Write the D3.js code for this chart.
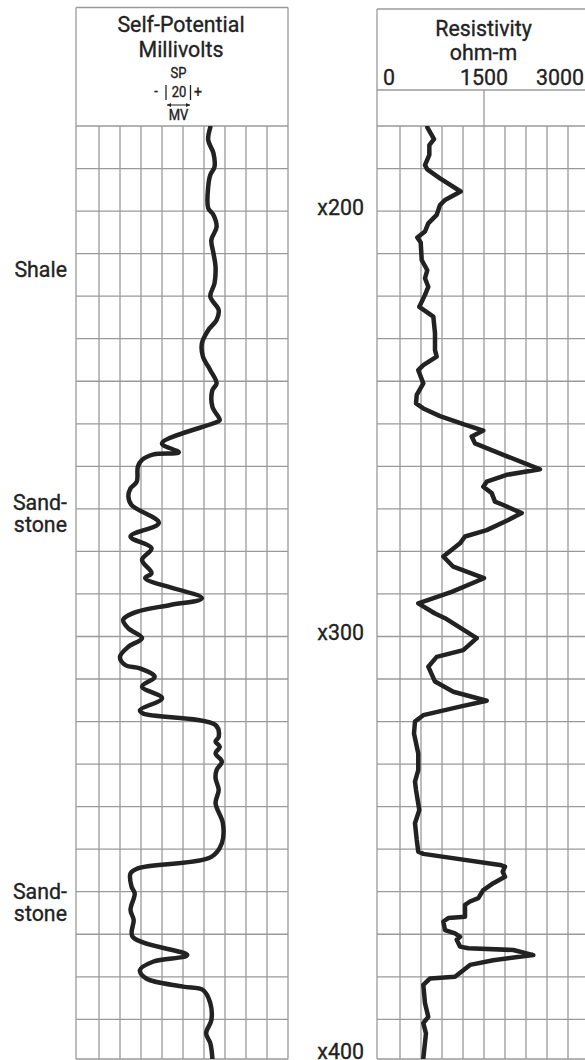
<!DOCTYPE html>
<html>
<head>
<meta charset="utf-8">
<script src="https://cdn.jsdelivr.net/npm/d3@7.9.0/dist/d3.min.js"></script>
<style>
  html, body { margin: 0; padding: 0; background: #fff; }
  svg { display: block; }
  text { font-family: Roboto, "Liberation Sans", sans-serif; fill: #222; stroke: #222; stroke-width: 0.35px; }
</style>
</head>
<body>
<svg id="chart" width="585" height="1060"></svg>
<script>
// depth (ft) / self-potential (mV, relative)
const spDepth = [180.3, 183.3, 186.4, 189.6, 191.5, 194.3, 199.3, 200.9, 203.7, 206.8, 209.9, 213.1,
  217.0, 220.1, 223.3, 225.6, 228.0, 231.1, 234.2, 237.4, 240.5, 242.1, 246.0, 249.1, 249.5,
  254.6, 256.7, 257.2, 258.5, 260.1, 263.6, 265.2, 267.1, 269.1, 273.3, 276.5, 279.3, 282.0,
  285.1, 286.3, 291.0, 292.6, 294.2, 296.1, 298.1, 300.4, 302.4, 304.8, 306.7, 307.5, 309.5,
  311.8, 314.5, 317.3, 318.1, 320.8, 323.6, 324.7, 325.9, 327.5, 329.4, 331.4, 333.3, 336.1,
  339.2, 343.9, 348.6, 351.8, 354.5, 355.7, 358.8, 360.4, 364.3, 366.6, 370.6, 374.9, 376.4,
  378.4, 380.4, 382.3, 383.1, 386.2, 390.2, 393.3, 395.6, 399.2];
const spMV = [126, 124, 129, 130, 126, 124, 124, 129, 132, 127, 129, 131,
  130, 126, 134, 132, 124, 118, 119, 126, 132, 128, 128, 135, 133,
  80, 96, 72, 61, 57, 56, 50, 48, 51, 77, 50, 70, 61,
  70, 64, 118, 88, 56, 43, 48, 61, 48, 40, 45, 59, 73,
  61, 80, 59, 62, 131, 134, 131, 135, 131, 137, 132, 131, 134,
  131, 138, 137, 127, 57, 50, 51, 54, 50, 53, 52, 104, 72,
  59, 65, 100, 119, 126, 127, 122, 126, 128];

// depth (ft) / resistivity (ohm-m)
const resDepth = [180.3, 183.1, 184.5, 186.8, 189.2, 190.2, 192.3, 195.4, 197.4, 198.6, 200.9, 202.9,
  204.8, 206.2, 207.4, 211.5, 213.9, 215.8, 217.8, 219.7, 222.5, 224.8, 228.7, 232.7, 234.2,
  236.2, 237.4, 240.5, 243.2, 245.2, 246.4, 248.2, 250.1, 251.6, 253.0, 254.6, 257.3, 260.7,
  262.0, 263.6, 264.8, 266.3, 268.3, 269.1, 271.0, 272.6, 275.0, 276.5, 278.1, 281.2, 283.6,
  286.3, 289.5, 292.2, 294.6, 295.7, 300.4, 303.2, 304.8, 307.1, 310.6, 313.0, 315.1, 316.5,
  318.5, 320.0, 322.8, 327.5, 331.4, 334.1, 336.1, 340.8, 343.9, 347.8, 350.6, 351.1, 353.7,
  354.1, 355.3, 356.5, 358.0, 359.6, 361.5, 362.3, 363.1, 365.9, 366.2, 367.0, 369.0, 369.8,
  370.6, 371.3, 372.9, 373.3, 373.7, 374.9, 376.1, 377.2, 380.0, 380.4, 381.9, 386.2, 389.4,
  390.9, 393.3, 399.2];
const resOhm = [690, 786, 719, 719, 657, 690, 871, 1167, 943, 871, 824, 704,
  657, 547, 596, 610, 690, 657, 704, 657, 576, 776, 800, 800, 824,
  633, 561, 633, 539, 529, 633, 871, 1204, 1490, 1324, 1371, 1776, 2300,
  1824, 1539, 1490, 1610, 1657, 1776, 2039, 1847, 1539, 1229, 1157, 919, 1061,
  1500, 1039, 561, 800, 943, 1396, 1204, 824, 704, 800, 1061, 1539, 1157,
  633, 514, 500, 561, 561, 514, 529, 576, 514, 539, 561, 633, 1729,
  1800, 1767, 1800, 1633, 1490, 1419, 1300, 1229, 1229, 990, 919, 943, 1086,
  1157, 1110, 1157, 1276, 1919, 2204, 1633, 1300, 1086, 729, 633, 657, 704,
  633, 671, 633];

const depthLabels = [200, 300, 400];
const resTicks = [0, 1500, 3000];
const lithology = [
  { depth: 215.5, lines: ['Shale'] },
  { depth: 270.2, lines: ['Sand-', 'stone'] },
  { depth: 361.6, lines: ['Sand-', 'stone'] }
];

const svg = d3.select('#chart');
const gridColor = '#9a9a9a';
const curveColor = '#222';

const y = d3.scaleLinear().domain([180, 400]).range([126, 126 + 22 * 42.54]);
const xSP = d3.scaleLinear().domain([0, 200]).range([78, 288]);
const xRes = d3.scaleLinear().domain([0, 3000]).range([379, 589]);
const bottom = 1059;

function label(g, x, yy, txt, size, anchor) {
  g.append('text')
    .attr('transform', `translate(${x},${yy}) scale(0.93,1)`)
    .attr('text-anchor', anchor)
    .style('font-size', size + 'px')
    .text(txt);
}

function line(x1, y1, x2, y2) {
  svg.append('line')
    .attr('x1', x1).attr('y1', y1).attr('x2', x2).attr('y2', y2)
    .attr('stroke', gridColor).attr('stroke-width', 1.3);
}

// grid for both tracks
function drawTrack(x, left, top) {
  const [, right] = x.range();
  const vals = d3.range(1, 11).map(i => x.domain()[0] + i * (x.domain()[1] - x.domain()[0]) / 10);
  vals.forEach(v => line(x(v), y(180), x(v), bottom));
  d3.range(180, 400, 10).forEach(d => line(left, y(d), right, y(d)));
  line(left, top, left, bottom);
  line(left, top, right, top);
  line(left, bottom, right, bottom);
  if (right < 585) line(right, top, right, y(180));
}
drawTrack(xSP, 76, 7.5);
drawTrack(xRes, 377, 9);

// resistivity header scale row
line(377, 90, 589, 90);
line(xRes(1500), 90, xRes(1500), y(180));

const txt = svg.append('g');
label(txt, 181, 32, 'Self-Potential', 23, 'middle');
label(txt, 181, 57, 'Millivolts', 23, 'middle');
label(txt, 178.5, 77.5, 'SP', 14, 'middle');
label(txt, 179, 97, '20', 14, 'middle');
label(txt, 156, 96, '-', 14, 'middle');
label(txt, 198, 97, '+', 15, 'middle');
label(txt, 178.5, 120, 'MV', 14, 'middle');

// bracket and scale arrow
[166, 190.5].forEach(bx => svg.append('line')
  .attr('x1', bx).attr('x2', bx).attr('y1', 85).attr('y2', 100)
  .attr('stroke', '#222').attr('stroke-width', 1.3));
svg.append('line').attr('x1', 167).attr('x2', 190).attr('y1', 105).attr('y2', 105)
  .attr('stroke', '#222').attr('stroke-width', 1);
svg.append('path').attr('d', 'M167,105 l4,-2 v4 Z M190,105 l-4,-2 v4 Z').attr('fill', '#222');

label(txt, 483.5, 36, 'Resistivity', 23, 'middle');
label(txt, 483.5, 60, 'ohm-m', 23, 'middle');
resTicks.forEach((t, i) => {
  const anchor = i === 0 ? 'start' : i === resTicks.length - 1 ? 'end' : 'middle';
  const dx = i === 0 ? 4 : i === resTicks.length - 1 ? -5 : 0;
  label(txt, xRes(t) + dx, 85, String(t), 23, anchor);
});

depthLabels.forEach(d => label(txt, 364, Math.min(y(d) + 4, bottom), 'x' + d, 23, 'end'));

lithology.forEach(l => l.lines.forEach((s, i) => label(txt, 67, y(l.depth) + i * 22, s, 23, 'end')));

// curves
svg.append('clipPath').attr('id', 'clip')
  .append('rect').attr('x', 0).attr('y', y(180)).attr('width', 585).attr('height', bottom - y(180));

const spLine = d3.line()
  .x(i => xSP(spMV[i])).y(i => y(spDepth[i]))
  .curve(d3.curveCatmullRom.alpha(0.5));
const resLine = d3.line()
  .x(i => xRes(resOhm[i])).y(i => y(resDepth[i]));

svg.append('path')
  .attr('clip-path', 'url(#clip)')
  .attr('d', spLine(d3.range(spDepth.length)))
  .attr('fill', 'none').attr('stroke', curveColor).attr('stroke-width', 4.5)
  .attr('stroke-linejoin', 'round').attr('stroke-linecap', 'round');

svg.append('path')
  .attr('clip-path', 'url(#clip)')
  .attr('d', resLine(d3.range(resDepth.length)))
  .attr('fill', 'none').attr('stroke', curveColor).attr('stroke-width', 4.5)
  .attr('stroke-linejoin', 'round').attr('stroke-linecap', 'round');
</script>
</body>
</html>
